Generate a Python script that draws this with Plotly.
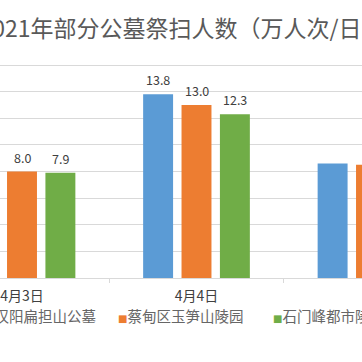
import plotly.graph_objects as go

categories = ["4月3日", "4月4日", "4月5日"]
series_names = ["汉阳扁担山公墓", "蔡甸区玉笋山陵园", "石门峰都市陵园"]
series_values = [
    [8.2, 13.8, 8.6],
    [8.0, 13.0, 8.5],
    [7.9, 12.3, 7.6],
]
colors = ["#5B9BD5", "#ED7D31", "#70AD47"]
title_text = "2021年部分公墓祭扫人数（万人次/日）"

FONT = "Noto Sans CJK SC, Noto Sans, sans-serif"
W = H = 362
ML, MR, MT, MB = 0, 0, 63, 84
plot_h = H - MT - MB
bar_pitch = 38.4

fig = go.Figure()
for name, vals, col in zip(series_names, series_values, colors):
    fig.add_trace(go.Bar(name=name, x=categories, y=vals, marker_color=col,
                         marker_line_width=0, showlegend=False, hoverinfo="skip"))

annotations = []
for si, vals in enumerate(series_values):
    for cat, v in zip(categories, vals):
        annotations.append(dict(
            x=cat, y=v, xref="x", yref="y", text=f"{v:.1f}", showarrow=False,
            xshift=(si - 1) * bar_pitch, yshift=14.5, yanchor="middle",
            font=dict(family=FONT, size=12.5, color="#404040")))

legend_text_px = [-6, 127, 282]
leg_y = (H - MB - 315.5) / plot_h
for name, col, px in zip(series_names, colors, legend_text_px):
    annotations.append(dict(
        x=(px - 10) / W, y=leg_y, xref="paper", yref="paper", xanchor="left",
        yanchor="middle", showarrow=False, borderpad=0,
        text=f"<span style='font-family:DejaVu Sans;font-size:10px;color:{col}'>■</span>{name}",
        font=dict(family=FONT, size=14.5, color="#666666")))

fig.update_layout(
    width=W, height=H,
    margin=dict(l=ML, r=MR, t=MT, b=MB),
    paper_bgcolor="white", plot_bgcolor="white",
    barmode="group", bargap=0.34, bargroupgap=0.22,
    title=dict(text=title_text, x=182 / W, xanchor="center", xref="paper",
               y=1 - 29 / H, yanchor="middle",
               font=dict(family=FONT, size=23, color="#595959")),
    xaxis=dict(type="category", range=[-22 / 174.5, (W - 22) / 174.5],
               showline=True, linecolor="#D9D9D9", linewidth=1,
               ticks="outside", tickson="boundaries", ticklen=4, tickcolor="#D9D9D9",
               showgrid=False, ticklabelstandoff=5,
               tickfont=dict(family=FONT, size=14, color="#404040")),
    yaxis=dict(range=[0, 16.15], dtick=2, showgrid=True, gridcolor="#D9D9D9",
               gridwidth=1, zeroline=False, showticklabels=False, showline=False),
    annotations=annotations,
    showlegend=False,
)

fig.write_html("out.html", config={"displayModeBar": False},
               post_script="document.body.style.margin='0';document.body.style.overflow='hidden';")
